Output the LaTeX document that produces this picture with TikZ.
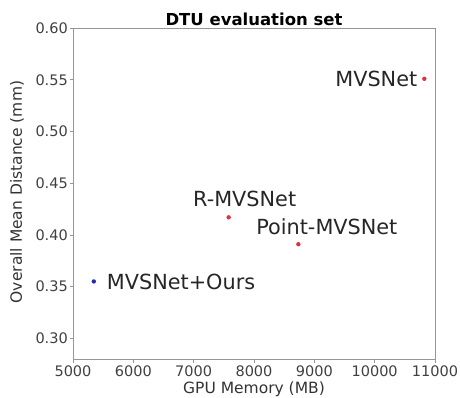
\documentclass[tikz,border=0pt]{standalone}
\usepackage{fontspec}
\setmainfont{DejaVu Sans}
\usepackage{tikz}
\usetikzlibrary{positioning}
\definecolor{ptred}{RGB}{218,52,62}
\definecolor{ptblue}{RGB}{38,42,172}
\definecolor{axgray}{RGB}{150,150,150}
\tikzstyle{dot} = [circle, inner sep=0pt, minimum size=4.4pt]
\tikzstyle{method} = [inner sep=0pt, text=black!85, font=\fontsize{20.8}{24}\selectfont]
\tikzstyle{ticklbl} = [inner sep=0pt, text=black!75, font=\fontsize{14.5}{17}\selectfont]
\tikzstyle{axlbl} = [inner sep=0pt, text=black!80, font=\fontsize{15.5}{18}\selectfont]
\tikzstyle{frame} = [draw=axgray, line width=0.8pt]

\begin{document}
\begin{tikzpicture}
    \useasboundingbox (0,0) rectangle (460pt,397pt);
        % Title and axis labels
    \node [axlbl, font=\fontsize{16.5}{19}\selectfont\bfseries, text=black] (title) at (254pt,378pt) {DTU evaluation set};
    \node [axlbl] (xlab) at (254pt,8pt) {GPU Memory (MB)};
    \node [axlbl, rotate=90] (ylab) at (17pt,205pt) {Overall Mean Distance (mm)};
    \begin{scope}[shift={(73pt,38pt)}, x=0.06033pt, y=1034pt, shift={(-5000,-0.28)}]
            % Frame and ticks
        \draw [frame] (5000,0.28) rectangle (11000,0.60);
        \foreach \yt [count=\i] in {0.30,0.35,0.40,0.45,0.50,0.55,0.60} {
            \draw [frame] (5000,\yt) -- ++(-3.5pt,0pt);
            \node [ticklbl, anchor=east] (yt\i) at ([xshift=-5pt]5000,\yt) {\yt};
        }
        \foreach \xt [count=\i] in {5000,6000,7000,8000,9000,10000,11000} {
            \draw [frame] (\xt,0.28) -- ++(0pt,-3.5pt);
            \node [ticklbl, anchor=north] (xt\i) at ([yshift=-6.5pt]\xt,0.28) {\xt};
        }
            % Points
        \node [dot, fill=ptred] (mvsnet) at (10823,0.551) {};
        \node [dot, fill=ptred] (rmvsnet) at (7580,0.417) {};
        \node [dot, fill=ptred] (pointmvs) at (8735,0.391) {};
        \node [dot, fill=ptblue] (ours) at (5345,0.355) {};
            % Labels
        \node [method, left=4.5pt of mvsnet] (mvsnetlbl) {MVSNet};
        \node [method, above=8pt of rmvsnet, xshift=16pt] (rmvsnetlbl) {R-MVSNet};
        \node [method, above=7pt of pointmvs, xshift=28.5pt] (pointmvslbl) {Point-MVSNet};
        \node [method, right=10.5pt of ours] (ourslbl) {MVSNet+Ours};
    \end{scope}
\end{tikzpicture}
\end{document}
